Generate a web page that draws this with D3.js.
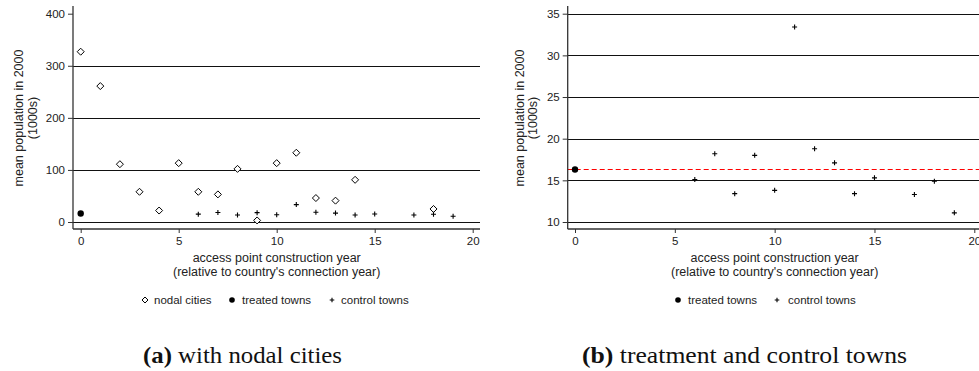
<!DOCTYPE html>
<html><head><meta charset="utf-8">
<script src="https://cdn.jsdelivr.net/npm/d3@7"></script>
<style>body{margin:0;background:#fff}svg{display:block}</style>
</head><body>
<svg id="c" width="979" height="371"></svg>
<script>
// ---- data ----
const nodalYears = [0,1,2,3,4,5,6,7,8,9,10,11,12,13,14,18];
const nodalPop   = [327,261,111,58,22,113,58,53,102,3,113,133,46,41,81,25];
const treatedYears = [0];
const treatedPop   = [16.3];
const controlYears = [6,7,8,9,10,11,12,13,14,15,17,18,19];
const controlPop   = [15.1,18.2,13.4,18.0,13.8,33.4,18.8,17.1,13.4,15.3,13.3,14.9,11.1];
const xTicks = [0,5,10,15,20];
const yTicksA = [0,100,200,300,400];
const gridA = [0,100,200,300];
const yTicksB = [10,15,20,25,30,35];
const treatedMean = 16.3;
const yTitle = ["mean population in 2000","(1000s)"];
const xTitle = ["access point construction year","(relative to country's connection year)"];
const captions = [["(a)"," with nodal cities"],["(b)"," treatment and control towns"]];

const svg = d3.select("#c");
const SANS = "'Liberation Sans', Arial, sans-serif";
const SERIF = "'Liberation Serif', 'DejaVu Serif', serif";
const axisCol = "#333";

function diamond(g, x, y, r){
  g.append("path").attr("d", `M${x},${y-r}L${x+r},${y}L${x},${y+r}L${x-r},${y}Z`)
   .attr("fill","#fff").attr("stroke","#000").attr("stroke-width",1);
}
function plus(g, x, y, r){
  g.append("path").attr("d", `M${x-r},${y}H${x+r}M${x},${y-r}V${y+r}`)
   .attr("stroke","#000").attr("stroke-width",1.1).attr("fill","none");
}
function dot(g, x, y, r){
  g.append("circle").attr("cx",x).attr("cy",y).attr("r",r).attr("fill","#000");
}

function panel(cfg){
  const g = svg.append("g");
  const x = d3.scaleLinear().domain([0,20]).range([cfg.x0, cfg.x1]);
  const y = d3.scaleLinear().domain(cfg.ydom).range([222, 13.7]);
  const axY = 229, top = 6;
  // gridlines
  g.selectAll(".grid").data(cfg.grid).join("line")
    .attr("x1", cfg.ax).attr("x2", cfg.right)
    .attr("y1", d=>Math.round(y(d))+0.5).attr("y2", d=>Math.round(y(d))+0.5)
    .attr("stroke","#111").attr("stroke-width",1.1);
  if (cfg.refLine !== undefined){
    g.append("line").attr("x1",cfg.ax).attr("x2",cfg.right)
      .attr("y1",y(cfg.refLine)).attr("y2",y(cfg.refLine))
      .attr("stroke","#f00").attr("stroke-width",1).attr("stroke-dasharray","5,3");
  }
  // y axis
  const ya = g.append("g").attr("transform",`translate(${cfg.ax},0)`)
    .call(d3.axisLeft(y).tickValues(cfg.yticks).tickSize(5).tickPadding(3).tickSizeOuter(0));
  ya.select(".domain").remove();
  ya.append("line").attr("x1",0).attr("x2",0).attr("y1",top).attr("y2",axY).attr("stroke",axisCol).attr("stroke-width",1.3);
  ya.selectAll(".tick line").attr("stroke",axisCol);
  ya.selectAll("text").attr("font-family",SANS).attr("font-size",11.5).attr("fill","#222");
  // x axis
  const xa = g.append("g").attr("transform",`translate(0,${axY})`)
    .call(d3.axisBottom(x).tickValues(xTicks).tickSize(4).tickPadding(4).tickSizeOuter(0));
  xa.select(".domain").remove();
  xa.append("line").attr("x1",cfg.ax).attr("x2",cfg.right).attr("y1",0).attr("y2",0).attr("stroke",axisCol).attr("stroke-width",1.3);
  xa.selectAll(".tick line").attr("stroke",axisCol);
  xa.selectAll("text").attr("font-family",SANS).attr("font-size",11.5).attr("fill","#222");
  // y title
  yTitle.forEach((t,i)=>{
    g.append("text").attr("transform",`translate(${cfg.ytx[i]},118) rotate(-90)`)
      .attr("text-anchor","middle").attr("dominant-baseline","central")
      .attr("font-family",SANS).attr("font-size",12.5).attr("fill","#222").text(t);
  });
  // x title
  const cx = (cfg.x0+cfg.x1)/2;
  xTitle.forEach((t,i)=>{
    g.append("text").attr("x",cx).attr("y",262+i*14).attr("text-anchor","middle")
      .attr("font-family",SANS).attr("font-size",12.5).attr("fill","#222").text(t);
  });
  // data
  const m = g.append("g");
  if (cfg.nodal) nodalYears.forEach((yr,i)=>diamond(m, x(yr), y(nodalPop[i]), 3.5));
  controlYears.forEach((yr,i)=>plus(m, x(yr), y(controlPop[i]), 2.5));
  treatedYears.forEach((yr,i)=>dot(m, x(yr), y(treatedPop[i]), 3.2));
  // legend
  const lg = g.append("g");
  cfg.legend.forEach(it=>{
    if (it.k==="d") diamond(lg, it.mx, 300, 3);
    if (it.k==="c") dot(lg, it.mx, 300, 2.8);
    if (it.k==="p") plus(lg, it.mx, 300, 2.3);
    lg.append("text").attr("x",it.tx).attr("y",304).attr("font-family",SANS)
      .attr("font-size",11.5).attr("fill","#222").text(it.t);
  });
  // caption
  const cap = g.append("text").attr("x",cfg.capx).attr("y",363)
    .attr("textLength",cfg.capw).attr("lengthAdjust","spacingAndGlyphs")
    .attr("font-family",SERIF).attr("font-size",23).attr("fill","#111");
  cap.append("tspan").attr("font-weight","bold").text(cfg.cap[0]);
  cap.append("tspan").text(cfg.cap[1]);
}

panel({x0:80.7, x1:472.7, ax:73, right:480, ydom:[0,400], yticks:yTicksA, grid:gridA,
  ytx:[19,33], nodal:true, cap:captions[0], capx:143, capw:199,
  legend:[{k:"d",mx:145,tx:154,t:"nodal cities"},{k:"c",mx:232,tx:242,t:"treated towns"},{k:"p",mx:332,tx:341,t:"control towns"}]});
panel({x0:575, x1:974.3, ax:567.7, right:979, ydom:[10,35], yticks:yTicksB, grid:yTicksB,
  ytx:[520,533], nodal:false, refLine:treatedMean, cap:captions[1], capx:582, capw:325,
  legend:[{k:"c",mx:678,tx:688,t:"treated towns"},{k:"p",mx:777,tx:788,t:"control towns"}]});
</script>
</body></html>
